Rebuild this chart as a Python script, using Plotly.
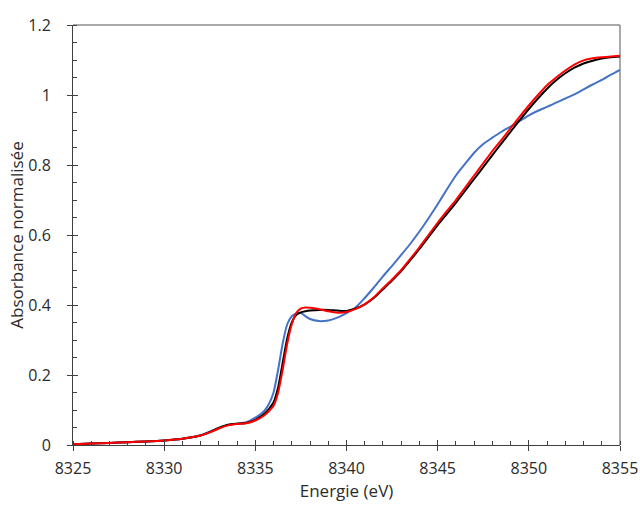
import plotly.graph_objects as go

energie = [8325, 8326, 8327, 8328, 8329, 8330, 8331, 8332,
           8332.5, 8333, 8333.5, 8334, 8334.5, 8335, 8335.5,
           8335.75,
           8336, 8336.25, 8336.5, 8336.75, 8337, 8337.25, 8337.5, 8337.75, 8338,
           8338.5, 8339, 8339.5, 8340, 8340.5, 8341, 8341.5, 8342, 8342.5, 8343,
           8343.5, 8344, 8344.5, 8345, 8345.5, 8346, 8346.5, 8347, 8347.5, 8348,
           8348.5, 8349, 8349.5, 8350, 8350.5, 8351, 8351.5, 8352, 8352.5, 8353,
           8353.5, 8354, 8354.5, 8355]

bleu = [0.002, 0.004, 0.006, 0.008, 0.010, 0.013, 0.018, 0.028,
        0.038, 0.049, 0.057, 0.061, 0.065, 0.078, 0.098,
        0.118,
        0.15, 0.215, 0.29, 0.345, 0.368, 0.376, 0.377, 0.368, 0.36,
        0.354, 0.356, 0.364, 0.377, 0.393, 0.42, 0.45, 0.482, 0.512, 0.543,
        0.575, 0.61, 0.648, 0.688, 0.73, 0.77, 0.803, 0.835, 0.86, 0.878,
        0.895, 0.91, 0.926, 0.942, 0.955, 0.966, 0.978, 0.99, 1.002, 1.016,
        1.03, 1.043, 1.058, 1.072]

noir = [0.002, 0.004, 0.006, 0.008, 0.010, 0.013, 0.018, 0.027,
        0.037, 0.049, 0.058, 0.061, 0.063, 0.072, 0.089,
        0.103,
        0.122, 0.165, 0.235, 0.305, 0.35, 0.372, 0.379, 0.382, 0.384,
        0.386, 0.386, 0.384, 0.383, 0.39, 0.402, 0.42, 0.445, 0.47, 0.497,
        0.528, 0.56, 0.594, 0.628, 0.66, 0.692, 0.726, 0.76, 0.794, 0.828,
        0.862, 0.895, 0.928, 0.96, 0.99, 1.018, 1.042, 1.062, 1.078, 1.09,
        1.098, 1.104, 1.108, 1.11]

rouge = [0.002, 0.004, 0.006, 0.008, 0.010, 0.013, 0.018, 0.027,
         0.036, 0.047, 0.056, 0.060, 0.062, 0.070, 0.085,
         0.097,
         0.112, 0.15, 0.215, 0.29, 0.345, 0.378, 0.39, 0.393, 0.392,
         0.388, 0.382, 0.378, 0.38, 0.389, 0.402, 0.422, 0.448, 0.473, 0.50,
         0.532, 0.565, 0.60, 0.635, 0.668, 0.70, 0.735, 0.77, 0.805, 0.84,
         0.872, 0.905, 0.938, 0.97, 1.0, 1.028, 1.05, 1.07, 1.087, 1.099,
         1.105, 1.108, 1.11, 1.112]

x_major = [8325, 8330, 8335, 8340, 8345, 8350, 8355]
y_major = [0, 0.2, 0.4, 0.6, 0.8, 1, 1.2]

FONT = "Open Sans"
AXC = "#404040"
TXT = "#2b2b2b"

fig = go.Figure()
for ys, col in [(bleu, "#4472C4"), (noir, "#000000"), (rouge, "#FF0000")]:
    fig.add_trace(go.Scatter(x=energie, y=ys, mode="lines",
                             line=dict(color=col, width=2, shape="spline", smoothing=0.6),
                             showlegend=False, hoverinfo="skip"))
# dummy trace for overlay axes (inside part of major ticks)
fig.add_trace(go.Scatter(x=[None], y=[None], xaxis="x2", yaxis="y2",
                         showlegend=False, hoverinfo="skip"))

fig.update_layout(
    width=640, height=505,
    margin=dict(l=73, r=20, t=25, b=60, autoexpand=False),
    paper_bgcolor="white", plot_bgcolor="white",
    font=dict(family=FONT, size=16, color=TXT),
    xaxis=dict(range=[8325, 8355], tickvals=x_major, ticks="outside", ticklen=5,
               tickcolor=AXC, showline=True, linecolor=AXC, linewidth=1,
               showgrid=False, zeroline=False, ticklabelstandoff=4, automargin=False,
               tickfont=dict(size=16, color=TXT),
               minor=dict(ticks="inside", ticklen=4, dtick=1, tickcolor=AXC),
               title=dict(text="Energie (eV)", font=dict(size=17, color=TXT), standoff=4)),
    yaxis=dict(range=[0, 1.2], tickvals=y_major, ticks="outside", ticklen=5,
               tickcolor=AXC, showline=True, linecolor=AXC, linewidth=1,
               showgrid=False, zeroline=False, ticklabelstandoff=13, automargin=False,
               tickfont=dict(size=16, color=TXT),
               minor=dict(ticks="inside", ticklen=4, dtick=0.05, tick0=0, tickcolor=AXC),
               title=dict(text="Absorbance normalisée", font=dict(size=17, color=TXT), standoff=0)),
    xaxis2=dict(range=[8325, 8355], overlaying="x", anchor="y2", side="bottom",
                tickvals=x_major, ticks="inside", ticklen=5, tickcolor=AXC, automargin=False,
                showticklabels=False, showline=False, showgrid=False, zeroline=False),
    yaxis2=dict(range=[0, 1.2], overlaying="y", anchor="x2", side="left",
                tickvals=y_major, ticks="inside", ticklen=5, tickcolor=AXC, automargin=False,
                showticklabels=False, showline=False, showgrid=False, zeroline=False),
    shapes=[dict(type="line", xref="paper", yref="paper", x0=0, x1=1, y0=1, y1=1,
                 line=dict(color="#8C8C8C", width=1.5), layer="below"),
            dict(type="line", xref="paper", yref="paper", x0=1, x1=1, y0=0, y1=1,
                 line=dict(color="#8C8C8C", width=1.5), layer="below")],
)

# remove the browser's default 8px body margin so the figure fills the window
fig.write_html("out.html",
               config={"displayModeBar": False},
               post_script="document.body.style.margin='0';document.body.style.overflow='hidden';")
